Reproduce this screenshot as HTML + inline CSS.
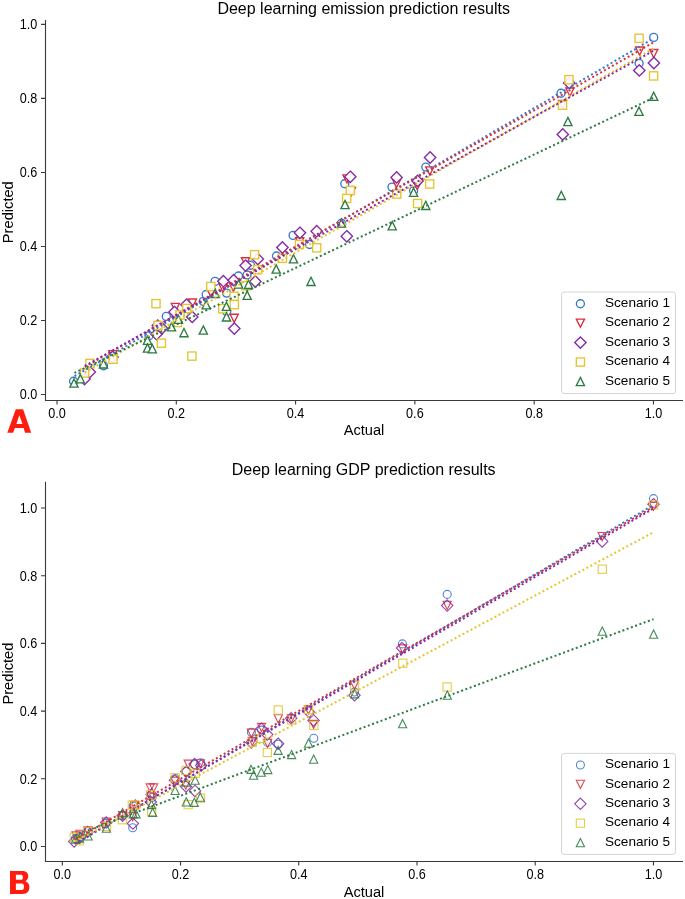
<!DOCTYPE html>
<html><head><meta charset="utf-8"><style>
html,body{margin:0;padding:0;background:#fff;}
svg{display:block;will-change:transform;}
text{font-family:"Liberation Sans",sans-serif;fill:#000;}
.tk{font-size:13.6px;}
.ti{font-size:16px;}
.lb{font-size:14.67px;}
.lg{font-size:13.6px;}
</style></head><body>
<svg width="685" height="899" viewBox="0 0 685 899">
<rect width="685" height="899" fill="#fff"/>
<path d="M45.5,20V400.5H683" fill="none" stroke="#3a3a3a" stroke-width="1.1"/>
<text transform="translate(37.25,399.4) scale(0.93,1.04)" text-anchor="end" class="tk">0.0</text>
<text transform="translate(57,418) scale(0.93,1.04)" text-anchor="middle" class="tk">0.0</text>
<text transform="translate(37.25,325.38) scale(0.93,1.04)" text-anchor="end" class="tk">0.2</text>
<text transform="translate(176.29,418) scale(0.93,1.04)" text-anchor="middle" class="tk">0.2</text>
<text transform="translate(37.25,251.36) scale(0.93,1.04)" text-anchor="end" class="tk">0.4</text>
<text transform="translate(295.58,418) scale(0.93,1.04)" text-anchor="middle" class="tk">0.4</text>
<text transform="translate(37.25,177.34) scale(0.93,1.04)" text-anchor="end" class="tk">0.6</text>
<text transform="translate(414.87,418) scale(0.93,1.04)" text-anchor="middle" class="tk">0.6</text>
<text transform="translate(37.25,103.32) scale(0.93,1.04)" text-anchor="end" class="tk">0.8</text>
<text transform="translate(534.16,418) scale(0.93,1.04)" text-anchor="middle" class="tk">0.8</text>
<text transform="translate(37.25,29.3) scale(0.93,1.04)" text-anchor="end" class="tk">1.0</text>
<text transform="translate(653.45,418) scale(0.93,1.04)" text-anchor="middle" class="tk">1.0</text>
<path d="M41,394.5H45.5M57,400.5V404.4M41,320.48H45.5M176.29,400.5V404.4M41,246.46H45.5M295.58,400.5V404.4M41,172.44H45.5M414.87,400.5V404.4M41,98.42H45.5M534.16,400.5V404.4M41,24.4H45.5M653.45,400.5V404.4" stroke="#3a3a3a" stroke-width="1.1"/>
<g fill="#fff" fill-opacity="0.9" stroke-width="1.35"><circle cx="73.6" cy="381.2" r="4" stroke="#3778cc"/><circle cx="103.5" cy="365.7" r="4" stroke="#3778cc"/><circle cx="149" cy="335.7" r="4" stroke="#3778cc"/><circle cx="166.3" cy="316.4" r="4" stroke="#3778cc"/><circle cx="203.3" cy="301.4" r="4" stroke="#3778cc"/><circle cx="206.2" cy="294.5" r="4" stroke="#3778cc"/><circle cx="215.1" cy="281.4" r="4" stroke="#3778cc"/><circle cx="226.6" cy="293.1" r="4" stroke="#3778cc"/><circle cx="226.7" cy="311.7" r="4" stroke="#3778cc"/><circle cx="238.5" cy="276" r="4" stroke="#3778cc"/><circle cx="247" cy="275" r="4" stroke="#3778cc"/><circle cx="250.5" cy="265.2" r="4" stroke="#3778cc"/><circle cx="276.5" cy="256" r="4" stroke="#3778cc"/><circle cx="293.1" cy="235.4" r="4" stroke="#3778cc"/><circle cx="309.6" cy="244.5" r="4" stroke="#3778cc"/><circle cx="341.5" cy="223.2" r="4" stroke="#3778cc"/><circle cx="344.8" cy="183.7" r="4" stroke="#3778cc"/><circle cx="392" cy="187.1" r="4" stroke="#3778cc"/><circle cx="413.6" cy="190.8" r="4" stroke="#3778cc"/><circle cx="425.8" cy="167.1" r="4" stroke="#3778cc"/><circle cx="561" cy="93.2" r="4" stroke="#3778cc"/><circle cx="639.1" cy="63.3" r="4" stroke="#3778cc"/><circle cx="653.7" cy="37.4" r="4" stroke="#3778cc"/><path d="M108.8,350.6H117L112.9,358.8Z" stroke="#d8303c"/><path d="M171.3,303.3H179.5L175.4,311.5Z" stroke="#d8303c"/><path d="M188.3,299H196.5L192.4,307.2Z" stroke="#d8303c"/><path d="M206.9,288.9H215.1L211,297.1Z" stroke="#d8303c"/><path d="M219,284H227.2L223.1,292.2Z" stroke="#d8303c"/><path d="M229.3,283.2H237.5L233.4,291.4Z" stroke="#d8303c"/><path d="M230.1,314.2H238.3L234.2,322.4Z" stroke="#d8303c"/><path d="M241.4,257.7H249.6L245.5,265.9Z" stroke="#d8303c"/><path d="M295.6,237.7H303.8L299.7,245.9Z" stroke="#d8303c"/><path d="M342.9,174.8H351.1L347,183Z" stroke="#d8303c"/><path d="M347.4,187.4H355.6L351.5,195.6Z" stroke="#d8303c"/><path d="M392.5,179.3H400.7L396.6,187.5Z" stroke="#d8303c"/><path d="M413.2,181.4H421.4L417.3,189.6Z" stroke="#d8303c"/><path d="M425.7,166.8H433.9L429.8,175Z" stroke="#d8303c"/><path d="M565.8,88H574L569.9,96.2Z" stroke="#d8303c"/><path d="M558.4,100.4H566.6L562.5,108.6Z" stroke="#d8303c"/><path d="M635.5,47H643.7L639.6,55.2Z" stroke="#d8303c"/><path d="M649.6,49.5H657.8L653.7,57.7Z" stroke="#d8303c"/><path d="M84.5,373.3L90.2,379L84.5,384.7L78.8,379Z" stroke="#8529a4"/><path d="M89.8,366.3L95.5,372L89.8,377.7L84.1,372Z" stroke="#8529a4"/><path d="M112.5,351.3L118.2,357L112.5,362.7L106.8,357Z" stroke="#8529a4"/><path d="M156.5,328.5L162.2,334.2L156.5,339.9L150.8,334.2Z" stroke="#8529a4"/><path d="M157.8,319.9L163.5,325.6L157.8,331.3L152.1,325.6Z" stroke="#8529a4"/><path d="M162,322.6L167.7,328.3L162,334L156.3,328.3Z" stroke="#8529a4"/><path d="M174.5,306.3L180.2,312L174.5,317.7L168.8,312Z" stroke="#8529a4"/><path d="M186.5,299L192.2,304.7L186.5,310.4L180.8,304.7Z" stroke="#8529a4"/><path d="M192.2,311.2L197.9,316.9L192.2,322.6L186.5,316.9Z" stroke="#8529a4"/><path d="M223.4,275.5L229.1,281.2L223.4,286.9L217.7,281.2Z" stroke="#8529a4"/><path d="M233.6,274.5L239.3,280.2L233.6,285.9L227.9,280.2Z" stroke="#8529a4"/><path d="M234.3,322.9L240,328.6L234.3,334.3L228.6,328.6Z" stroke="#8529a4"/><path d="M245.6,259.9L251.3,265.6L245.6,271.3L239.9,265.6Z" stroke="#8529a4"/><path d="M257.8,253.3L263.5,259L257.8,264.7L252.1,259Z" stroke="#8529a4"/><path d="M255.3,275.8L261,281.5L255.3,287.2L249.6,281.5Z" stroke="#8529a4"/><path d="M282.4,241.8L288.1,247.5L282.4,253.2L276.7,247.5Z" stroke="#8529a4"/><path d="M299.9,227.1L305.6,232.8L299.9,238.5L294.2,232.8Z" stroke="#8529a4"/><path d="M316.7,225.5L322.4,231.2L316.7,236.9L311,231.2Z" stroke="#8529a4"/><path d="M346.8,230.6L352.5,236.3L346.8,242L341.1,236.3Z" stroke="#8529a4"/><path d="M350.3,171.1L356,176.8L350.3,182.5L344.6,176.8Z" stroke="#8529a4"/><path d="M396.6,171.7L402.3,177.4L396.6,183.1L390.9,177.4Z" stroke="#8529a4"/><path d="M417.6,175.2L423.3,180.9L417.6,186.6L411.9,180.9Z" stroke="#8529a4"/><path d="M430.1,151.8L435.8,157.5L430.1,163.2L424.4,157.5Z" stroke="#8529a4"/><path d="M569.2,77.3L574.9,83L569.2,88.7L563.5,83Z" stroke="#8529a4"/><path d="M562.8,128.7L568.5,134.4L562.8,140.1L557.1,134.4Z" stroke="#8529a4"/><path d="M639.3,64.7L645,70.4L639.3,76.1L633.6,70.4Z" stroke="#8529a4"/><path d="M653.9,57.3L659.6,63L653.9,68.7L648.2,63Z" stroke="#8529a4"/><rect x="80.6" y="368.9" width="8.2" height="8.2" stroke="#e5c430"/><rect x="85.9" y="359.3" width="8.2" height="8.2" stroke="#e5c430"/><rect x="108.9" y="355.1" width="8.2" height="8.2" stroke="#e5c430"/><rect x="151.9" y="299.55" width="8.2" height="8.2" stroke="#e5c430"/><rect x="153.8" y="321.3" width="8.2" height="8.2" stroke="#e5c430"/><rect x="157.3" y="339.1" width="8.2" height="8.2" stroke="#e5c430"/><rect x="173.4" y="318.4" width="8.2" height="8.2" stroke="#e5c430"/><rect x="175.9" y="310.8" width="8.2" height="8.2" stroke="#e5c430"/><rect x="182.6" y="304.4" width="8.2" height="8.2" stroke="#e5c430"/><rect x="187.8" y="352" width="8.2" height="8.2" stroke="#e5c430"/><rect x="206.7" y="282.4" width="8.2" height="8.2" stroke="#e5c430"/><rect x="218.7" y="304.7" width="8.2" height="8.2" stroke="#e5c430"/><rect x="230" y="292.2" width="8.2" height="8.2" stroke="#e5c430"/><rect x="230.2" y="300.5" width="8.2" height="8.2" stroke="#e5c430"/><rect x="241.5" y="281.6" width="8.2" height="8.2" stroke="#e5c430"/><rect x="250.5" y="250.6" width="8.2" height="8.2" stroke="#e5c430"/><rect x="253.5" y="265.6" width="8.2" height="8.2" stroke="#e5c430"/><rect x="278.3" y="254.2" width="8.2" height="8.2" stroke="#e5c430"/><rect x="295.4" y="240.3" width="8.2" height="8.2" stroke="#e5c430"/><rect x="312.6" y="243.7" width="8.2" height="8.2" stroke="#e5c430"/><rect x="342.6" y="194.3" width="8.2" height="8.2" stroke="#e5c430"/><rect x="346.3" y="186.3" width="8.2" height="8.2" stroke="#e5c430"/><rect x="392.6" y="189.9" width="8.2" height="8.2" stroke="#e5c430"/><rect x="413.5" y="199.4" width="8.2" height="8.2" stroke="#e5c430"/><rect x="425.6" y="179.9" width="8.2" height="8.2" stroke="#e5c430"/><rect x="564.9" y="75.6" width="8.2" height="8.2" stroke="#e5c430"/><rect x="558.4" y="101.1" width="8.2" height="8.2" stroke="#e5c430"/><rect x="635" y="34.2" width="8.2" height="8.2" stroke="#e5c430"/><rect x="649.5" y="71.8" width="8.2" height="8.2" stroke="#e5c430"/><path d="M74,378.9L78.1,387.1H69.9Z" stroke="#2e7a43"/><path d="M80.3,374.6L84.4,382.8H76.2Z" stroke="#2e7a43"/><path d="M103.5,359.8L107.6,368H99.4Z" stroke="#2e7a43"/><path d="M147.5,336.1L151.6,344.3H143.4Z" stroke="#2e7a43"/><path d="M147.5,343.9L151.6,352.1H143.4Z" stroke="#2e7a43"/><path d="M152.3,344.6L156.4,352.8H148.2Z" stroke="#2e7a43"/><path d="M171.5,322.7L175.6,330.9H167.4Z" stroke="#2e7a43"/><path d="M178.4,315.2L182.5,323.4H174.3Z" stroke="#2e7a43"/><path d="M184,328.5L188.1,336.7H179.9Z" stroke="#2e7a43"/><path d="M203.3,325.9L207.4,334.1H199.2Z" stroke="#2e7a43"/><path d="M206.2,300.7L210.3,308.9H202.1Z" stroke="#2e7a43"/><path d="M215.3,289.3L219.4,297.5H211.2Z" stroke="#2e7a43"/><path d="M226.4,302.2L230.5,310.4H222.3Z" stroke="#2e7a43"/><path d="M226.5,312.8L230.6,321H222.4Z" stroke="#2e7a43"/><path d="M238.6,279.9L242.7,288.1H234.5Z" stroke="#2e7a43"/><path d="M248.5,280.3L252.6,288.5H244.4Z" stroke="#2e7a43"/><path d="M247.2,291.2L251.3,299.4H243.1Z" stroke="#2e7a43"/><path d="M276.2,264.9L280.3,273.1H272.1Z" stroke="#2e7a43"/><path d="M293.5,254.7L297.6,262.9H289.4Z" stroke="#2e7a43"/><path d="M311,277.3L315.1,285.5H306.9Z" stroke="#2e7a43"/><path d="M341.5,218.9L345.6,227.1H337.4Z" stroke="#2e7a43"/><path d="M345,200.4L349.1,208.6H340.9Z" stroke="#2e7a43"/><path d="M392.2,221.6L396.3,229.8H388.1Z" stroke="#2e7a43"/><path d="M413.6,188.1L417.7,196.3H409.5Z" stroke="#2e7a43"/><path d="M425.8,201.3L429.9,209.5H421.7Z" stroke="#2e7a43"/><path d="M567.9,117.4L572,125.6H563.8Z" stroke="#2e7a43"/><path d="M561.3,191.3L565.4,199.5H557.2Z" stroke="#2e7a43"/><path d="M639,107.1L643.1,115.3H634.9Z" stroke="#2e7a43"/><path d="M653.7,92.2L657.8,100.4H649.6Z" stroke="#2e7a43"/></g>
<line x1="73.6" y1="376.74" x2="653.5" y2="38.5" stroke="#3778cc" stroke-width="2" stroke-dasharray="2.0 2.53" stroke-dashoffset="3.42"/>
<line x1="84" y1="367.31" x2="653.5" y2="42.4" stroke="#d8303c" stroke-width="2" stroke-dasharray="2.0 2.53" stroke-dashoffset="3.68"/>
<line x1="84.7" y1="372.62" x2="653.5" y2="48.5" stroke="#e5c430" stroke-width="2" stroke-dasharray="2.0 2.53" stroke-dashoffset="4.36"/>
<line x1="84.5" y1="366.1" x2="653.5" y2="50.7" stroke="#8529a4" stroke-width="2" stroke-dasharray="2.0 2.53" stroke-dashoffset="4.23"/>
<line x1="74" y1="373.16" x2="653.5" y2="97.8" stroke="#2e7a43" stroke-width="2" stroke-dasharray="2.0 2.53" stroke-dashoffset="4.07"/>
<text x="363.7" y="13.5" text-anchor="middle" class="ti">Deep learning emission prediction results</text>
<text x="364" y="435.3" text-anchor="middle" class="lb">Actual</text>
<text transform="translate(13,212.2) rotate(-90)" text-anchor="middle" class="lb">Predicted</text>
<rect x="561.5" y="292" width="114" height="101.5" rx="2.5" fill="#fff" fill-opacity="0.8" stroke="#d6d6d6" stroke-width="1"/>
<text x="605" y="306.9" class="lg">Scenario 1</text>
<text x="605" y="326.35" class="lg">Scenario 2</text>
<text x="605" y="345.8" class="lg">Scenario 3</text>
<text x="605" y="365.25" class="lg">Scenario 4</text>
<text x="605" y="384.7" class="lg">Scenario 5</text>
<g fill="none" stroke-width="1.35"><circle cx="580.4" cy="303.7" r="4" stroke="#3778cc"/><path d="M576.3,319.05H584.5L580.4,327.25Z" stroke="#d8303c"/><path d="M580.4,336.9L586.1,342.6L580.4,348.3L574.7,342.6Z" stroke="#8529a4"/><rect x="576.3" y="357.95" width="8.2" height="8.2" stroke="#e5c430"/><path d="M580.4,377.4L584.5,385.6H576.3Z" stroke="#2e7a43"/></g>
<path d="M45.5,481.7V861.5H683" fill="none" stroke="#3a3a3a" stroke-width="1.1"/>
<text transform="translate(37.25,851.4) scale(0.93,1.04)" text-anchor="end" class="tk">0.0</text>
<text transform="translate(62.3,879) scale(0.93,1.04)" text-anchor="middle" class="tk">0.0</text>
<text transform="translate(37.25,783.7) scale(0.93,1.04)" text-anchor="end" class="tk">0.2</text>
<text transform="translate(180.53,879) scale(0.93,1.04)" text-anchor="middle" class="tk">0.2</text>
<text transform="translate(37.25,716) scale(0.93,1.04)" text-anchor="end" class="tk">0.4</text>
<text transform="translate(298.76,879) scale(0.93,1.04)" text-anchor="middle" class="tk">0.4</text>
<text transform="translate(37.25,648.3) scale(0.93,1.04)" text-anchor="end" class="tk">0.6</text>
<text transform="translate(416.99,879) scale(0.93,1.04)" text-anchor="middle" class="tk">0.6</text>
<text transform="translate(37.25,580.6) scale(0.93,1.04)" text-anchor="end" class="tk">0.8</text>
<text transform="translate(535.22,879) scale(0.93,1.04)" text-anchor="middle" class="tk">0.8</text>
<text transform="translate(37.25,512.9) scale(0.93,1.04)" text-anchor="end" class="tk">1.0</text>
<text transform="translate(653.45,879) scale(0.93,1.04)" text-anchor="middle" class="tk">1.0</text>
<path d="M41,846.5H45.5M62.3,861.5V865.4M41,778.8H45.5M180.53,861.5V865.4M41,711.1H45.5M298.76,861.5V865.4M41,643.4H45.5M416.99,861.5V865.4M41,575.7H45.5M535.22,861.5V865.4M41,508H45.5M653.45,861.5V865.4" stroke="#3a3a3a" stroke-width="1.1"/>
<g fill="none" stroke-opacity="0.88" stroke-width="1.1"><circle cx="75.5" cy="838.5" r="4" stroke="#3778cc"/><circle cx="80" cy="837" r="4" stroke="#3778cc"/><circle cx="88" cy="831.5" r="4" stroke="#3778cc"/><circle cx="106" cy="823.4" r="4" stroke="#3778cc"/><circle cx="122.4" cy="815.5" r="4" stroke="#3778cc"/><circle cx="133.1" cy="806" r="4" stroke="#3778cc"/><circle cx="132.7" cy="827.7" r="4" stroke="#3778cc"/><circle cx="151.4" cy="794" r="4" stroke="#3778cc"/><circle cx="152.2" cy="797.5" r="4" stroke="#3778cc"/><circle cx="175.3" cy="778.5" r="4" stroke="#3778cc"/><circle cx="186.3" cy="771.5" r="4" stroke="#3778cc"/><circle cx="194.6" cy="764.5" r="4" stroke="#3778cc"/><circle cx="200.7" cy="762.8" r="4" stroke="#3778cc"/><circle cx="251.4" cy="732.3" r="4" stroke="#3778cc"/><circle cx="261.5" cy="730.1" r="4" stroke="#3778cc"/><circle cx="267.6" cy="742.4" r="4" stroke="#3778cc"/><circle cx="278.1" cy="744.2" r="4" stroke="#3778cc"/><circle cx="313.8" cy="738.2" r="4" stroke="#3778cc"/><circle cx="354.5" cy="692" r="4" stroke="#3778cc"/><circle cx="402.4" cy="643.9" r="4" stroke="#3778cc"/><circle cx="447.2" cy="594.4" r="4" stroke="#3778cc"/><circle cx="653.5" cy="498.6" r="4" stroke="#3778cc"/><path d="M71.9,831.9H80.1L76,840.1Z" stroke="#d8303c"/><path d="M75.9,830.3H84.1L80,838.5Z" stroke="#d8303c"/><path d="M83.9,826.9H92.1L88,835.1Z" stroke="#d8303c"/><path d="M102.1,818H110.3L106.2,826.2Z" stroke="#d8303c"/><path d="M118.5,811.5H126.7L122.6,819.7Z" stroke="#d8303c"/><path d="M130.4,801.4H138.6L134.5,809.6Z" stroke="#d8303c"/><path d="M128.6,812.6H136.8L132.7,820.8Z" stroke="#d8303c"/><path d="M146.1,783.9H154.3L150.2,792.1Z" stroke="#d8303c"/><path d="M149.5,783.9H157.7L153.6,792.1Z" stroke="#d8303c"/><path d="M146.9,792.9H155.1L151,801.1Z" stroke="#d8303c"/><path d="M170.8,777.1H179L174.9,785.3Z" stroke="#d8303c"/><path d="M184.1,760.1H192.3L188.2,768.3Z" stroke="#d8303c"/><path d="M196.2,759.7H204.4L200.3,767.9Z" stroke="#d8303c"/><path d="M181.7,781H189.9L185.8,789.2Z" stroke="#d8303c"/><path d="M247.3,729.1H255.5L251.4,737.3Z" stroke="#d8303c"/><path d="M257.4,723.4H265.6L261.5,731.6Z" stroke="#d8303c"/><path d="M248.2,737.4H256.4L252.3,745.6Z" stroke="#d8303c"/><path d="M263.5,739.2H271.7L267.6,747.4Z" stroke="#d8303c"/><path d="M274.2,714.7H282.4L278.3,722.9Z" stroke="#d8303c"/><path d="M287.2,714.9H295.4L291.3,723.1Z" stroke="#d8303c"/><path d="M304.4,705.8H312.6L308.5,714Z" stroke="#d8303c"/><path d="M309.5,720.4H317.7L313.6,728.6Z" stroke="#d8303c"/><path d="M350.4,681H358.6L354.5,689.2Z" stroke="#d8303c"/><path d="M398.5,644.9H406.7L402.6,653.1Z" stroke="#d8303c"/><path d="M443.1,601.3H451.3L447.2,609.5Z" stroke="#d8303c"/><path d="M598.1,532.5H606.3L602.2,540.7Z" stroke="#d8303c"/><path d="M649.4,502.1H657.6L653.5,510.3Z" stroke="#d8303c"/><path d="M74.2,835.8L79.9,841.5L74.2,847.2L68.5,841.5Z" stroke="#8529a4"/><path d="M79.5,832.3L85.2,838L79.5,843.7L73.8,838Z" stroke="#8529a4"/><path d="M87.5,826.4L93.2,832.1L87.5,837.8L81.8,832.1Z" stroke="#8529a4"/><path d="M106.2,816.9L111.9,822.6L106.2,828.3L100.5,822.6Z" stroke="#8529a4"/><path d="M122.6,810.1L128.3,815.8L122.6,821.5L116.9,815.8Z" stroke="#8529a4"/><path d="M135.4,799.9L141.1,805.6L135.4,811.3L129.7,805.6Z" stroke="#8529a4"/><path d="M132.9,817.8L138.6,823.5L132.9,829.2L127.2,823.5Z" stroke="#8529a4"/><path d="M151.5,788.8L157.2,794.5L151.5,800.2L145.8,794.5Z" stroke="#8529a4"/><path d="M150.8,796.3L156.5,802L150.8,807.7L145.1,802Z" stroke="#8529a4"/><path d="M174.9,774.6L180.6,780.3L174.9,786L169.2,780.3Z" stroke="#8529a4"/><path d="M186.3,765.8L192,771.5L186.3,777.2L180.6,771.5Z" stroke="#8529a4"/><path d="M194.6,758.4L200.3,764.1L194.6,769.8L188.9,764.1Z" stroke="#8529a4"/><path d="M201.2,759.7L206.9,765.4L201.2,771.1L195.5,765.4Z" stroke="#8529a4"/><path d="M186,780.8L191.7,786.5L186,792.2L180.3,786.5Z" stroke="#8529a4"/><path d="M195,785.2L200.7,790.9L195,796.6L189.3,790.9Z" stroke="#8529a4"/><path d="M261.5,723.1L267.2,728.8L261.5,734.5L255.8,728.8Z" stroke="#8529a4"/><path d="M267.2,728.8L272.9,734.5L267.2,740.2L261.5,734.5Z" stroke="#8529a4"/><path d="M251.4,736.7L257.1,742.4L251.4,748.1L245.7,742.4Z" stroke="#8529a4"/><path d="M278.1,738L283.8,743.7L278.1,749.4L272.4,743.7Z" stroke="#8529a4"/><path d="M291.2,712.6L296.9,718.3L291.2,724L285.5,718.3Z" stroke="#8529a4"/><path d="M309,706.3L314.7,712L309,717.7L303.3,712Z" stroke="#8529a4"/><path d="M313.6,714.7L319.3,720.4L313.6,726.1L307.9,720.4Z" stroke="#8529a4"/><path d="M354.5,689.6L360.2,695.3L354.5,701L348.8,695.3Z" stroke="#8529a4"/><path d="M402,642.3L407.7,648L402,653.7L396.3,648Z" stroke="#8529a4"/><path d="M447.2,599.9L452.9,605.6L447.2,611.3L441.5,605.6Z" stroke="#8529a4"/><path d="M602.2,535.7L607.9,541.4L602.2,547.1L596.5,541.4Z" stroke="#8529a4"/><path d="M653.5,498.5L659.2,504.2L653.5,509.9L647.8,504.2Z" stroke="#8529a4"/><rect x="70.2" y="833.2" width="8.2" height="8.2" stroke="#e5c430"/><rect x="75.1" y="836.6" width="8.2" height="8.2" stroke="#e5c430"/><rect x="83.5" y="827.3" width="8.2" height="8.2" stroke="#e5c430"/><rect x="102.4" y="822.4" width="8.2" height="8.2" stroke="#e5c430"/><rect x="118.3" y="815.6" width="8.2" height="8.2" stroke="#e5c430"/><rect x="128.2" y="801" width="8.2" height="8.2" stroke="#e5c430"/><rect x="131.6" y="801" width="8.2" height="8.2" stroke="#e5c430"/><rect x="146.6" y="790.6" width="8.2" height="8.2" stroke="#e5c430"/><rect x="147.6" y="807.5" width="8.2" height="8.2" stroke="#e5c430"/><rect x="171" y="773.7" width="8.2" height="8.2" stroke="#e5c430"/><rect x="181.9" y="766.3" width="8.2" height="8.2" stroke="#e5c430"/><rect x="191.1" y="769.2" width="8.2" height="8.2" stroke="#e5c430"/><rect x="196.4" y="794" width="8.2" height="8.2" stroke="#e5c430"/><rect x="184.1" y="800.6" width="8.2" height="8.2" stroke="#e5c430"/><rect x="274.2" y="705.9" width="8.2" height="8.2" stroke="#e5c430"/><rect x="257.4" y="734.4" width="8.2" height="8.2" stroke="#e5c430"/><rect x="248.2" y="738.3" width="8.2" height="8.2" stroke="#e5c430"/><rect x="263.2" y="748.4" width="8.2" height="8.2" stroke="#e5c430"/><rect x="287.4" y="715.9" width="8.2" height="8.2" stroke="#e5c430"/><rect x="304.4" y="705.4" width="8.2" height="8.2" stroke="#e5c430"/><rect x="309.7" y="721.4" width="8.2" height="8.2" stroke="#e5c430"/><rect x="350.4" y="681.5" width="8.2" height="8.2" stroke="#e5c430"/><rect x="398.7" y="659.1" width="8.2" height="8.2" stroke="#e5c430"/><rect x="443" y="682.9" width="8.2" height="8.2" stroke="#e5c430"/><rect x="598.2" y="565.1" width="8.2" height="8.2" stroke="#e5c430"/><rect x="649.5" y="500.9" width="8.2" height="8.2" stroke="#e5c430"/><path d="M75.5,834.9L79.6,843.1H71.4Z" stroke="#2e7a43"/><path d="M79.5,833.9L83.6,842.1H75.4Z" stroke="#2e7a43"/><path d="M88.1,831.8L92.2,840H84Z" stroke="#2e7a43"/><path d="M106.4,824L110.5,832.2H102.3Z" stroke="#2e7a43"/><path d="M122.6,808.4L126.7,816.6H118.5Z" stroke="#2e7a43"/><path d="M133.2,809.7L137.3,817.9H129.1Z" stroke="#2e7a43"/><path d="M136,809.7L140.1,817.9H131.9Z" stroke="#2e7a43"/><path d="M151.5,800.4L155.6,808.6H147.4Z" stroke="#2e7a43"/><path d="M152.7,808.2L156.8,816.4H148.6Z" stroke="#2e7a43"/><path d="M175.1,786.3L179.2,794.5H171Z" stroke="#2e7a43"/><path d="M195.2,776L199.3,784.2H191.1Z" stroke="#2e7a43"/><path d="M186.3,777.9L190.4,786.1H182.2Z" stroke="#2e7a43"/><path d="M200.3,793L204.4,801.2H196.2Z" stroke="#2e7a43"/><path d="M186.3,797.8L190.4,806H182.2Z" stroke="#2e7a43"/><path d="M194.3,798.2L198.4,806.4H190.2Z" stroke="#2e7a43"/><path d="M251,765.2L255.1,773.4H246.9Z" stroke="#2e7a43"/><path d="M253.6,771.1L257.7,779.3H249.5Z" stroke="#2e7a43"/><path d="M261.3,768.1L265.4,776.3H257.2Z" stroke="#2e7a43"/><path d="M267.8,765.4L271.9,773.6H263.7Z" stroke="#2e7a43"/><path d="M278.1,746.2L282.2,754.4H274Z" stroke="#2e7a43"/><path d="M291.6,750.4L295.7,758.6H287.5Z" stroke="#2e7a43"/><path d="M308.5,739.1L312.6,747.3H304.4Z" stroke="#2e7a43"/><path d="M313.7,755L317.8,763.2H309.6Z" stroke="#2e7a43"/><path d="M354.6,689.7L358.7,697.9H350.5Z" stroke="#2e7a43"/><path d="M402.6,719.5L406.7,727.7H398.5Z" stroke="#2e7a43"/><path d="M447.3,691.1L451.4,699.3H443.2Z" stroke="#2e7a43"/><path d="M602.3,627L606.4,635.2H598.2Z" stroke="#2e7a43"/><path d="M653.6,630.1L657.7,638.3H649.5Z" stroke="#2e7a43"/></g>
<line x1="74" y1="844.5" x2="653.5" y2="505" stroke="#3778cc" stroke-width="2" stroke-dasharray="2.0 2.53" stroke-dashoffset="3.15"/>
<line x1="74" y1="840.2" x2="653.5" y2="506.9" stroke="#d8303c" stroke-width="2" stroke-dasharray="2.0 2.53" stroke-dashoffset="3.86"/>
<line x1="74" y1="843.8" x2="653.5" y2="508.5" stroke="#8529a4" stroke-width="2" stroke-dasharray="2.0 2.53" stroke-dashoffset="3.69"/>
<line x1="74" y1="842" x2="653.5" y2="532.3" stroke="#e5c430" stroke-width="2" stroke-dasharray="2.0 2.53" stroke-dashoffset="3.34"/>
<line x1="74" y1="835.6" x2="653.5" y2="619.1" stroke="#2e7a43" stroke-width="2" stroke-dasharray="2.0 2.53" stroke-dashoffset="3.43"/>
<text x="363.7" y="475.2" text-anchor="middle" class="ti">Deep learning GDP prediction results</text>
<text x="364" y="896.5" text-anchor="middle" class="lb">Actual</text>
<text transform="translate(13,673.6) rotate(-90)" text-anchor="middle" class="lb">Predicted</text>
<rect x="561.5" y="753.4" width="114" height="101" rx="2.5" fill="#fff" fill-opacity="0.8" stroke="#d6d6d6" stroke-width="1"/>
<text x="605" y="768.2" class="lg">Scenario 1</text>
<text x="605" y="787.6" class="lg">Scenario 2</text>
<text x="605" y="807" class="lg">Scenario 3</text>
<text x="605" y="826.4" class="lg">Scenario 4</text>
<text x="605" y="845.8" class="lg">Scenario 5</text>
<g fill="none" stroke-opacity="0.88" stroke-width="1.1"><circle cx="580.4" cy="765" r="4" stroke="#3778cc"/><path d="M576.3,780.3H584.5L580.4,788.5Z" stroke="#d8303c"/><path d="M580.4,798.1L586.1,803.8L580.4,809.5L574.7,803.8Z" stroke="#8529a4"/><rect x="576.3" y="819.1" width="8.2" height="8.2" stroke="#e5c430"/><path d="M580.4,838.5L584.5,846.7H576.3Z" stroke="#2e7a43"/></g>
<path fill="#ff1c0e" fill-rule="evenodd" d="M7.3,432.7L15.8,409.3H23.1L31.2,432.7H25.1L23.6,428H14.9L13.1,432.7ZM19.3,415.2L16.4,423.9H22.5Z"/>
<path fill="#ff1c0e" fill-rule="evenodd" d="M10,870.9H22.5C26.5,870.9 28.3,873.2 28.3,876.3C28.3,878.5 27.2,880 25.4,881.3C28,882.2 29.4,884.2 29.4,887.2C29.4,891.2 27,893.9 22.5,893.9H10ZM15.9,874.7H21.3C22.3,874.7 22.9,875.6 22.9,877.2C22.9,878.8 22.3,879.8 21.3,879.8H15.9ZM15.9,883.6H21.8C23.2,883.6 24,884.8 24,886.8C24,888.9 23.2,890.1 21.8,890.1H15.9Z"/>
</svg>
</body></html>
